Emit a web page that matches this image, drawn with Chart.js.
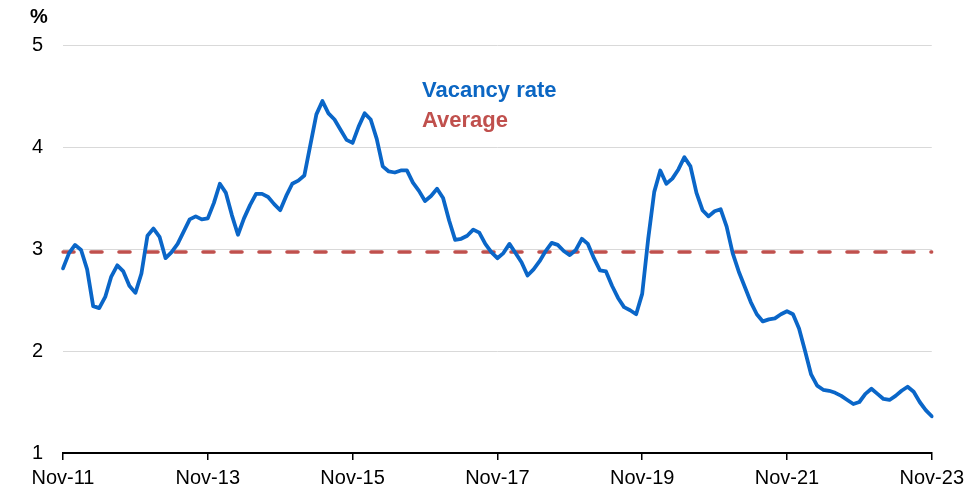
<!DOCTYPE html>
<html>
<head>
<meta charset="utf-8">
<script src="https://cdn.jsdelivr.net/npm/chart.js@4.4.1/dist/chart.umd.min.js"></script>
<style>
html,body{margin:0;padding:0;background:#fff;}
#wrap{width:970px;height:495px;}
</style>
</head>
<body>
<div id="wrap"><canvas id="c" width="970" height="495"></canvas></div>
<script>
// Monthly vacancy rate, Nov-11 .. Nov-23 (%)
const vacancyRate = [
  2.81, 2.96, 3.04, 2.99, 2.80, 2.44, 2.42, 2.53, 2.73, 2.84, 2.78, 2.64,
  2.57, 2.76, 3.13, 3.20, 3.12, 2.91, 2.97, 3.05, 3.17, 3.29, 3.32, 3.29,
  3.30, 3.45, 3.64, 3.55, 3.33, 3.14, 3.30, 3.43, 3.54, 3.54, 3.51, 3.44,
  3.38, 3.52, 3.64, 3.67, 3.72, 4.02, 4.32, 4.45, 4.33, 4.27, 4.17, 4.07,
  4.04, 4.20, 4.33, 4.27, 4.08, 3.81, 3.76, 3.75, 3.77, 3.77, 3.65, 3.57,
  3.47, 3.52, 3.59, 3.50, 3.28, 3.09, 3.10, 3.13, 3.19, 3.16, 3.05, 2.97,
  2.91, 2.96, 3.05, 2.96, 2.87, 2.74, 2.80, 2.88, 2.98, 3.06, 3.04, 2.98,
  2.94, 2.99, 3.10, 3.05, 2.91, 2.79, 2.78, 2.64, 2.52, 2.43, 2.40, 2.36,
  2.56, 3.10, 3.56, 3.77, 3.64, 3.69, 3.78, 3.90, 3.81, 3.55, 3.38, 3.32,
  3.37, 3.39, 3.22, 2.96, 2.78, 2.63, 2.48, 2.36, 2.29, 2.31, 2.32, 2.36,
  2.39, 2.36, 2.22, 2.00, 1.77, 1.66, 1.62, 1.61, 1.59, 1.56, 1.52, 1.48,
  1.50, 1.58, 1.63, 1.58, 1.53, 1.52, 1.56, 1.61, 1.65, 1.60, 1.50, 1.42,
  1.36
];
const averageRate = 2.97;
const tickLabels = ['Nov-11','Nov-13','Nov-15','Nov-17','Nov-19','Nov-21','Nov-23'];
const yTicks = [1, 2, 3, 4, 5];
const monthNames = ['Nov','Dec','Jan','Feb','Mar','Apr','May','Jun','Jul','Aug','Sep','Oct'];
const startYear = 11;

// category labels (one per month)
const categories = vacancyRate.map((_, i) => {
  const m = i % 12;
  const yr = startYear + Math.floor((i + 10) / 12);
  return monthNames[m] + '-' + String(yr).padStart(2, '0');
});
const averageSeries = categories.map(() => averageRate);

const FONT = '"Liberation Sans", Arial, sans-serif';

const overlayText = {
  id: 'overlayText',
  afterDraw(chart) {
    const ctx = chart.ctx;
    ctx.save();
    ctx.textBaseline = 'middle';
    ctx.textAlign = 'left';
    ctx.font = 'bold 20px ' + FONT;
    ctx.fillStyle = '#000';
    ctx.fillText('%', 30, 17);
    ctx.font = 'bold 22px ' + FONT;
    ctx.fillStyle = '#0B66C3';
    ctx.fillText('Vacancy rate', 422, 91);
    ctx.fillStyle = '#C0504D';
    ctx.fillText('Average', 422, 121);
    ctx.restore();
  }
};

new Chart(document.getElementById('c'), {
  type: 'line',
  data: {
    labels: categories,
    datasets: [
      {
        label: 'Average',
        data: averageSeries,
        borderColor: '#C0504D',
        borderWidth: 3.6,
        borderDash: [11, 17],
        borderCapStyle: 'round',
        pointRadius: 0,
        fill: false,
        order: 2
      },
      {
        label: 'Vacancy rate',
        data: vacancyRate,
        borderColor: '#0A66C8',
        borderWidth: 3.8,
        borderJoinStyle: 'round',
        borderCapStyle: 'round',
        pointRadius: 0,
        tension: 0,
        fill: false,
        order: 1
      }
    ]
  },
  options: {
    responsive: false,
    devicePixelRatio: 1,
    animation: false,
    layout: { padding: { top: 45, right: 37, bottom: 0, left: 0 } },
    plugins: { legend: { display: false }, tooltip: { enabled: false } },
    scales: {
      x: {
        type: 'category',
        afterFit(s) { s.height = 42; },
        grid: {
          drawOnChartArea: false,
          drawTicks: true,
          tickLength: 7,
          lineWidth: 1.5,
          color: (c) => (tickLabels.includes(categories[c.index]) ? '#000' : 'rgba(0,0,0,0)')
        },
        border: { display: true, color: '#000', width: 2 },
        ticks: {
          autoSkip: false,
          maxRotation: 0,
          minRotation: 0,
          padding: 6,
          color: '#000',
          font: { family: FONT, size: 20 },
          callback: (v, i) => (tickLabels.includes(categories[i]) ? categories[i] : '')
        }
      },
      y: {
        min: 1,
        max: 5,
        afterFit(s) { s.width = 63; },
        afterBuildTicks(s) { s.ticks = yTicks.map(v => ({ value: v })); },
        grid: { color: '#D9D9D9', lineWidth: 1, drawTicks: false },
        border: { display: false },
        ticks: {
          padding: 20,
          color: '#000',
          font: { family: FONT, size: 20 }
        }
      }
    }
  },
  plugins: [overlayText]
});
</script>
</body>
</html>
